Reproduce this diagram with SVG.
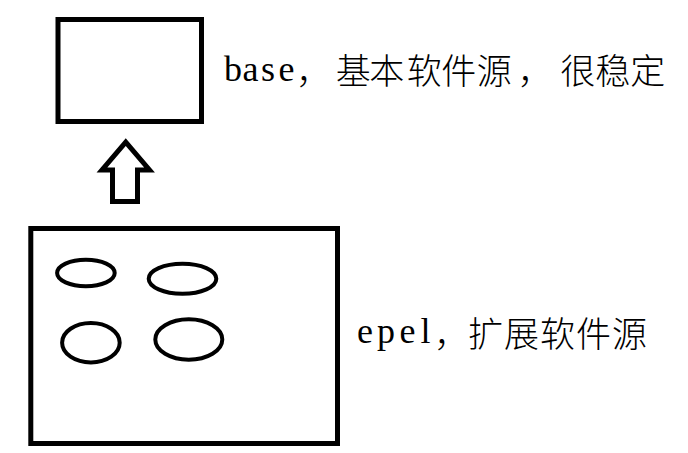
<svg xmlns="http://www.w3.org/2000/svg" width="688" height="453" viewBox="0 0 688 453">
<style>
.box{fill:#fff;stroke:#000;stroke-width:5}
.ell{fill:none;stroke:#000;stroke-width:4}
.arrow{fill:#fff;stroke:#000;stroke-width:5;stroke-linejoin:miter;stroke-miterlimit:10}
.lat{font-family:"Liberation Serif","Times New Roman",serif;font-size:36px;fill:#000}
.cjk{font-family:"Noto Sans CJK SC","Noto Sans CJK JP",sans-serif;font-size:35px;font-weight:300;fill:#000}
</style>
<rect width="688" height="453" fill="#fff"/>
<g id="base">
  <rect class="box" x="58" y="19.5" width="143.5" height="102"/>
  <text class="lat" x="224 242.5 261 278.5" y="81">base</text>
  <text class="cjk" x="296 335.8 369.2 406.8 441.2 476.8 517.5 560.2 595.2 630.2" y="84">，基本软件源，很稳定</text>
</g>
<g id="epel">
  <rect class="box" x="30.8" y="228.5" width="306.7" height="215"/>
  <ellipse class="ell" cx="85.9" cy="273" rx="28.8" ry="13.3"/>
  <ellipse class="ell" cx="182.5" cy="278.7" rx="33.8" ry="15"/>
  <ellipse class="ell" cx="90.9" cy="342.7" rx="28.8" ry="19.7"/>
  <ellipse class="ell" cx="188.8" cy="339.5" rx="33.5" ry="20.2"/>
  <text class="lat" x="357 377 399.5 420.5" y="343">epel</text>
  <text class="cjk" x="434 468 504 540 576 612" y="347">，扩展软件源</text>
</g>
<g id="connectors">
  <polygon class="arrow" points="125.75,142.2 149.5,170 137.5,170 137.5,201.5 112.5,201.5 112.5,170 102,170"/>
</g>
</svg>
